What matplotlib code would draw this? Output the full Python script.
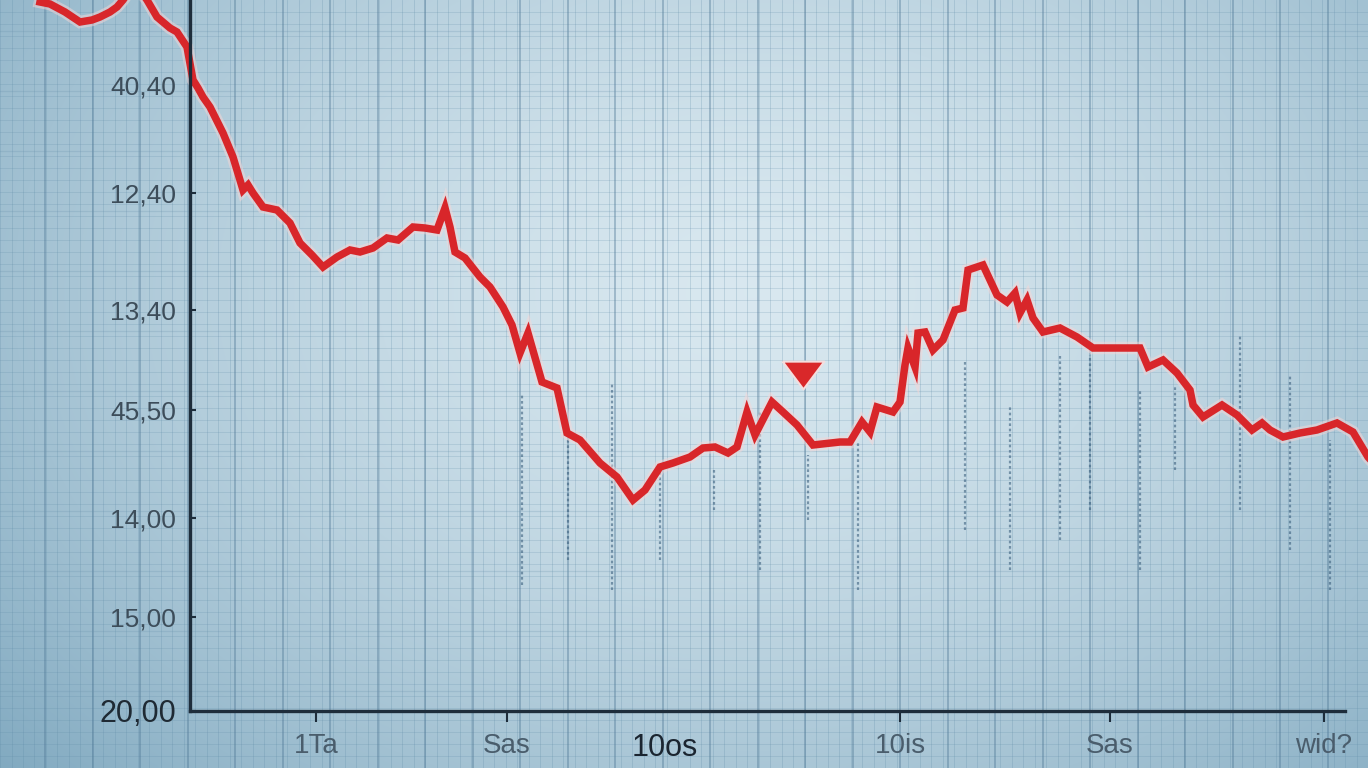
import numpy as np
import matplotlib
matplotlib.use("Agg")
import matplotlib.pyplot as plt
import matplotlib.patheffects as pe

# ---- data ----
x_vals = [-15.0, -14.0, -12.5, -11.0, -9.8, -9.0, -8.0, -7.3, -6.7, -6.0, -5.0, -4.3, -3.3, -2.0, -1.3, -0.3,
          0.3, 0.8, 1.3, 2.0, 3.3, 4.3, 5.3, 5.8, 6.3, 7.3, 8.7, 10.0, 11.0, 12.2, 13.3, 14.7, 16.0, 17.0,
          18.3, 19.7, 20.8, 22.3, 23.5, 24.7, 25.5, 26.0, 26.5, 27.5, 29.0, 30.0, 31.3, 32.2, 33.0, 33.8,
          35.2, 36.7, 37.7, 39.0, 41.0, 42.7, 44.3, 45.5, 47.0, 48.3, 50.0, 51.3, 52.5, 53.8, 54.7, 55.7,
          56.5, 58.2, 59.3, 60.7, 62.3, 65.0, 66.0, 67.2, 68.0, 68.7, 70.3, 71.0, 71.5, 71.8, 72.5, 72.8,
          73.5, 74.3, 75.3, 76.5, 77.3, 77.8, 79.3, 80.7, 81.7, 82.5, 83.0, 83.7, 84.3, 85.3, 87.0, 88.7,
          90.3, 92.7, 95.0, 95.8, 97.3, 98.7, 100.0, 100.3, 101.3, 103.2, 104.7, 106.2, 107.2, 108.0,
          109.3, 111.0, 112.7, 114.7, 116.3, 117.8, 119.0]
y_vals = [70.9, 70.7, 69.9, 68.9, 69.1, 69.4, 69.9, 70.4, 71.1, 72.1, 72.1, 71.1, 69.4, 68.3, 67.9, 66.4,
          63.1, 62.3, 61.4, 60.4, 57.8, 55.4, 52.1, 52.6, 51.8, 50.4, 50.1, 48.8, 46.8, 45.6, 44.4, 45.4,
          46.1, 45.9, 46.3, 47.3, 47.1, 48.4, 48.3, 48.1, 50.3, 48.4, 45.9, 45.3, 43.4, 42.4, 40.4, 38.6,
          35.8, 37.8, 32.9, 32.3, 27.8, 27.1, 24.8, 23.4, 21.1, 22.1, 24.4, 24.8, 25.4, 26.3, 26.4, 25.8,
          26.4, 29.9, 27.6, 30.9, 29.9, 28.6, 26.6, 26.9, 26.9, 28.9, 27.9, 30.4, 29.9, 30.9, 34.6, 36.3,
          34.4, 37.8, 37.9, 36.1, 37.1, 40.1, 40.3, 44.1, 44.6, 41.6, 40.9, 41.8, 39.8, 41.1, 39.3, 37.9,
          38.3, 37.4, 36.3, 36.3, 36.3, 34.4, 35.1, 33.8, 32.1, 30.6, 29.4, 30.6, 29.6, 28.1, 28.8, 28.1,
          27.4, 27.8, 28.1, 28.8, 27.9, 25.4, 24.1]

arrow_x = [61.3]
arrow_y = [33.6]

# dotted "volume" strokes under the line
stroke_x = [33.2, 37.8, 42.2, 47.0, 52.4, 57.0, 61.8, 66.8, 77.5, 82.0, 87.0, 90.0, 95.0, 98.5, 105.0, 110.0, 114.0]
stroke_top = [31.6, 27.1, 32.9, 24.1, 24.1, 30.1, 25.6, 26.9, 35.1, 30.6, 35.6, 35.6, 32.1, 32.6, 37.6, 33.6, 27.1]
stroke_bot = [12.6, 15.1, 12.1, 15.1, 20.1, 14.1, 19.1, 12.1, 18.1, 14.1, 17.1, 20.1, 14.1, 24.1, 20.1, 16.1, 12.1]

ytick_vals = [62.6, 51.8, 40.1, 30.1, 19.3, 9.4, 0.0]
ytick_labels = ["40,40", "12,40", "13,40", "45,50", "14,00", "15,00", "20,00"]
xtick_vals = [12.6, 31.7, 47.5, 71.0, 92.0, 113.4]
xtick_labels = ["1Ta", "Sas", "10os", "10is", "Sas", "wid?"]

# ---- figure ----
W, H = 1368, 768
fig = plt.figure(figsize=(W / 100, H / 100), dpi=100)
ax = fig.add_axes([0, 0, 1, 1])
xmin, xmax = -19.0, 117.8
ymin, ymax = -5.7, 71.1
ax.set_xlim(xmin, xmax)
ax.set_ylim(ymin, ymax)

# background gradient
gx, gy = np.meshgrid(np.linspace(0, 1, 400), np.linspace(1, 0, 225))
d = np.sqrt(((gx - 0.55) / 0.75) ** 2 + ((gy - 0.62) / 0.95) ** 2)
d = np.clip(d, 0, 1) ** 1.5
inner = np.array([0.85, 0.91, 0.94])
outer = np.array([0.50, 0.66, 0.75])
img = inner[None, None, :] * (1 - d[..., None]) + outer[None, None, :] * d[..., None]
ax.imshow(img, extent=[xmin, xmax, ymin, ymax], aspect="auto", zorder=0, interpolation="bilinear")

# fine grid
for xv in np.arange(xmin, xmax, 1.15):
    ax.axvline(xv, color="#5d8aa6", lw=0.6, alpha=0.28, zorder=1)
for yv in np.arange(ymin, ymax, 1.2):
    ax.axhline(yv, color="#5d8aa6", lw=0.6, alpha=0.24, zorder=1)
# major vertical lines
for xv in np.arange(-14.5, xmax, 4.75):
    ax.axvline(xv, color="#4f7896", lw=1.4, alpha=0.40, zorder=1)
for yv in np.arange(2.0, ymax, 6.0):
    ax.axhline(yv, color="#6b93ad", lw=0.9, alpha=0.25, zorder=1)

# dotted strokes
ax.vlines(stroke_x, stroke_bot, stroke_top, colors="#2f5575", linestyles=(0, (1.2, 1.2)),
          lw=1.6, alpha=0.55, zorder=2)

# red line with glow
ax.plot(x_vals, y_vals, color="#d8262a", lw=5.4, solid_joinstyle="miter", zorder=4,
        path_effects=[pe.Stroke(linewidth=9, foreground="#f6d6d6", alpha=0.5), pe.Normal()])

# down arrow marker
tri = [(-1.5, 1), (1.5, 1), (0, -1), (-1.5, 1)]
ax.plot(arrow_x, arrow_y, linestyle="none", marker=tri, markersize=30, color="#d9282a",
        markeredgecolor="#f4dede", markeredgewidth=1.5, zorder=5)

# spines
for s in ["top", "right"]:
    ax.spines[s].set_visible(False)
ax.spines["left"].set_position(("data", 0))
ax.spines["bottom"].set_position(("data", 0))
ax.spines["left"].set_bounds(0, ymax)
ax.spines["bottom"].set_bounds(0, 115.5)
for s in ["left", "bottom"]:
    ax.spines[s].set_color("#1e2d3b")
    ax.spines[s].set_linewidth(2.4)
    ax.spines[s].set_zorder(6)

ax.set_yticks(ytick_vals)
ax.set_yticklabels(ytick_labels)
ax.tick_params(axis="y", direction="in", length=4, width=1.5, color="#1e2d3b", pad=10,
               labelsize=19, labelcolor="#3d4d5a")
ax.yaxis.get_ticklabels()[-1].set_fontsize(22)
ax.yaxis.get_ticklabels()[-1].set_color("#1f2a34")

ax.set_xticks(xtick_vals)
ax.set_xticklabels(xtick_labels)
ax.tick_params(axis="x", direction="out", length=8, width=1.5, color="#1e2d3b", pad=8,
               labelsize=20, labelcolor="#4a5d6c")
xt = ax.xaxis.get_major_ticks()
xt[2].tick1line.set_visible(False)
ax.xaxis.get_ticklabels()[2].set_color("#1b2530")
ax.xaxis.get_ticklabels()[2].set_fontsize(22)

for lab in ax.get_xticklabels() + ax.get_yticklabels():
    lab.set_fontfamily("Liberation Sans")

fig.savefig("out.png", dpi=100)
